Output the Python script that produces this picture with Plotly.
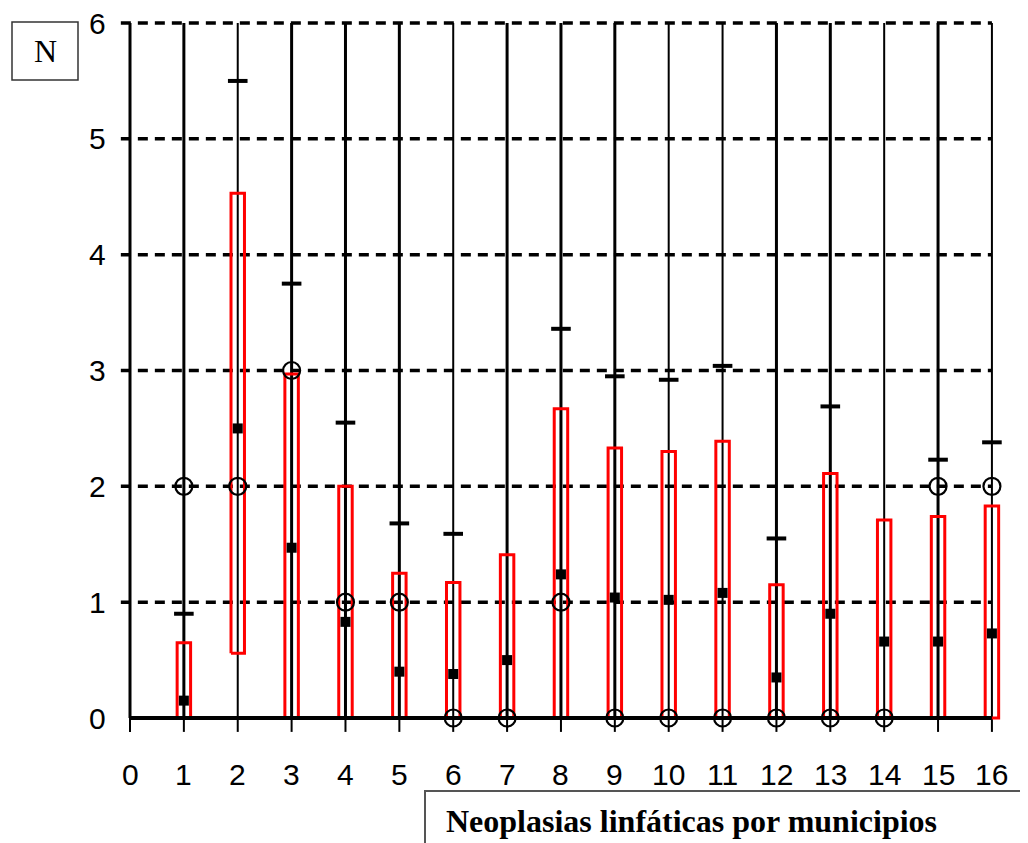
import plotly.graph_objects as go

# ---- data ----
municipios = list(range(1, 17))
observados = [2, 2, 3, 1, 1, 0, 0, 1, 0, 0, 0, 0, 0, 0, 2, 2]
esperados = [0.15, 2.50, 1.47, 0.83, 0.40, 0.38, 0.50, 1.24, 1.04, 1.02, 1.08, 0.35, 0.90, 0.66, 0.66, 0.73]
limite_sup = [0.90, 5.50, 3.75, 2.55, 1.68, 1.59, None, 3.36, 2.95, 2.92, 3.04, 1.55, 2.69, None, 2.23, 2.38]
caja_inf = [0, 0.56, 0, 0, 0, 0, 0, 0, 0, 0, 0, 0, 0, 0, 0, 0]
caja_sup = [0.65, 4.53, 2.97, 2.00, 1.25, 1.17, 1.41, 2.67, 2.33, 2.30, 2.39, 1.15, 2.11, 1.71, 1.74, 1.83]
x_ticks = list(range(0, 17))
y_ticks = list(range(0, 7))
titulo = "Neoplasias linfáticas por municipios"
etiqueta_y = "N"

# style: line width of the vertical line at each x tick
ancho_vertical = [3, 3, 2, 3, 3, 3, 2, 3, 3, 3, 2, 2, 3, 3, 2, 3, 2]

OFF = 8  # page body margin
W, H = 1028 - OFF, 843 - OFF
px_x, px_y = 53.87, 115.83
x0 = -(130 - OFF) / px_x
y0 = -(843 - 718) / px_y
xr = [x0, x0 + W / px_x]
yr = [y0, y0 + H / px_y]


def paper_x(p):
    return (p - OFF) / W


def paper_y(p):
    return 1 - (p - OFF) / H


tick_font = dict(family="Liberation Sans Narrow, Arial Narrow, Liberation Sans, Arial", size=30, color="black")

fig = go.Figure()

# dashed horizontal grid lines
gx, gy = [], []
for v in y_ticks[1:]:
    gx += [-0.17, 16, None]
    gy += [v, v, None]
fig.add_trace(go.Scatter(x=gx, y=gy, mode="lines", line=dict(color="black", width=3.5, dash="10px,7px"),
                         hoverinfo="skip", showlegend=False))

# vertical lines at each tick
for wdt in sorted(set(ancho_vertical)):
    vx, vy = [], []
    for v, a in zip(x_ticks, ancho_vertical):
        if a == wdt:
            vx += [v, v, None]
            vy += [0, 6, None]
    fig.add_trace(go.Scatter(x=vx, y=vy, mode="lines", line=dict(color="black", width=wdt),
                             hoverinfo="skip", showlegend=False))

# tick marks below zero
tx, ty = [], []
for v in x_ticks:
    tx += [v, v, None]
    ty += [0, -0.12, None]
fig.add_trace(go.Scatter(x=tx, y=ty, mode="lines", line=dict(color="black", width=2),
                         hoverinfo="skip", showlegend=False))

# red boxes
hw = 0.125
rx, ry = [], []
for xi, lo, hi in zip(municipios, caja_inf, caja_sup):
    rx += [xi - hw, xi - hw, xi + hw, xi + hw, xi - hw, None]
    ry += [lo, hi, hi, lo, lo, None]
fig.add_trace(go.Scatter(x=rx, y=ry, mode="lines", line=dict(color="#ff0000", width=3),
                         hoverinfo="skip", showlegend=False))

# zero axis line
fig.add_trace(go.Scatter(x=[0, 16], y=[0, 0], mode="lines", line=dict(color="black", width=4),
                         hoverinfo="skip", showlegend=False))

# upper limit dashes
fig.add_trace(go.Scatter(x=municipios, y=limite_sup, mode="markers",
                         marker=dict(symbol="line-ew", size=14, line=dict(color="black", width=4)),
                         showlegend=False))
# observed circles
fig.add_trace(go.Scatter(x=municipios, y=observados, mode="markers",
                         marker=dict(symbol="circle-open", size=17, color="black", line=dict(color="black", width=2.2)),
                         showlegend=False))
# expected squares
fig.add_trace(go.Scatter(x=municipios, y=esperados, mode="markers",
                         marker=dict(symbol="square", size=10, color="black"),
                         showlegend=False))

annotations = []
for v in y_ticks:
    annotations.append(dict(x=-0.40, y=v, xref="x", yref="y", text=str(v), showarrow=False,
                            xanchor="right", yanchor="middle", font=tick_font))
for v in x_ticks:
    annotations.append(dict(x=v, y=-0.49, xref="x", yref="y", text=str(v), showarrow=False,
                            xanchor="center", yanchor="middle", font=tick_font))

annotations.append(dict(x=paper_x(45), y=paper_y(51), xref="paper", yref="paper", text=etiqueta_y, showarrow=False,
                        xanchor="center", yanchor="middle",
                        font=dict(family="Liberation Serif, Times New Roman, serif", size=32, color="black")))
annotations.append(dict(x=paper_x(444), y=paper_y(821), xref="paper", yref="paper", text="<b>" + titulo + "</b>",
                        showarrow=False, xanchor="left", yanchor="middle",
                        font=dict(family="Liberation Serif, Times New Roman, serif", size=32, color="black")))

shapes = [
    dict(type="rect", xref="paper", yref="paper", x0=paper_x(12), x1=paper_x(78), y0=paper_y(80), y1=paper_y(22),
         line=dict(color="#333333", width=1.5)),
    dict(type="rect", xref="paper", yref="paper", x0=paper_x(425), x1=1.05, y0=-0.05, y1=paper_y(791),
         line=dict(color="#555555", width=2)),
]

fig.update_layout(
    width=W, height=H,
    margin=dict(l=0, r=0, t=0, b=0),
    paper_bgcolor="white", plot_bgcolor="white",
    xaxis=dict(range=xr, visible=False, fixedrange=True),
    yaxis=dict(range=yr, visible=False, fixedrange=True),
    annotations=annotations, shapes=shapes,
    showlegend=False,
)

fig.write_html("out.html")
